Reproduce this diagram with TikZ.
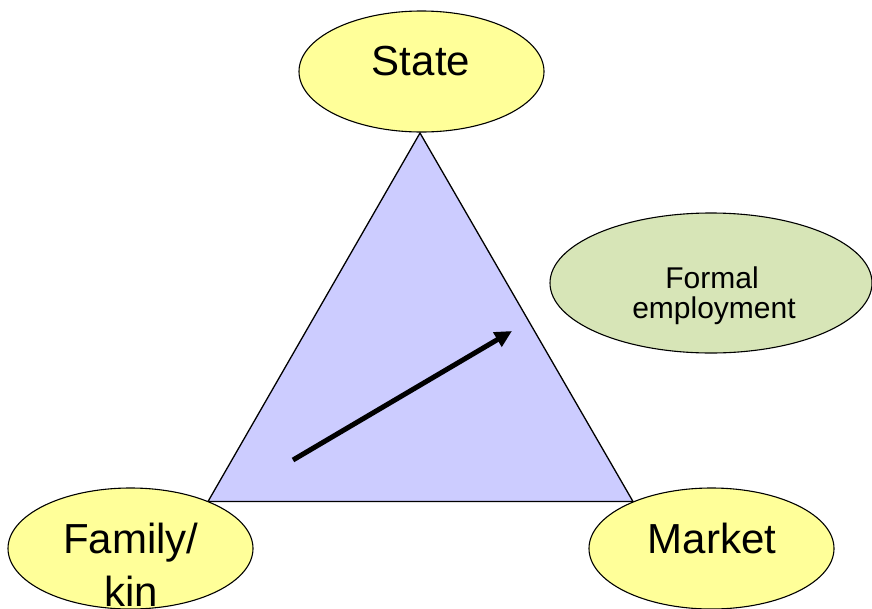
\documentclass[tikz,border=0pt]{standalone}
\usepackage{fontspec}
\setmainfont{Liberation Sans}
\usetikzlibrary{shapes.geometric,arrows.meta}

\definecolor{blobyellow}{RGB}{255,255,153}
\definecolor{triblue}{RGB}{204,204,255}
\definecolor{blobgreen}{RGB}{215,229,183}

\tikzset{
  blob/.style={ellipse, draw=black, line width=1.1pt, inner sep=0pt,
               minimum width=245pt, minimum height=121pt},
  bigtxt/.style={font=\fontsize{42}{50}\selectfont, inner sep=0pt, anchor=base},
  smalltxt/.style={font=\fontsize{30}{30}\selectfont, inner sep=0pt, anchor=base},
  corner/.style={inner sep=0pt, minimum size=0pt},
}

\begin{document}
\begin{tikzpicture}[x=1pt,y=-1pt]
  \useasboundingbox (0,0) rectangle (872,608);

  % corners of the welfare triangle
  \coordinate (top) at (420,133);
  \coordinate (left) at (208,501.5);
  \coordinate (right) at (633,501.5);
  \draw[fill=triblue, line width=1.3pt, line join=miter] (top) -- (right) -- (left) -- cycle;

  % direction of change
  \coordinate (from) at (293,460);
  \coordinate (to) at (512,331);
  \draw[line width=5pt, -{Triangle[length=17pt,width=16pt]}] (from) -- (to);

  % the three poles
  \node[blob, fill=blobyellow] (state) at (421.5,71.5) {};
  \node[blob, fill=blobyellow] (family) at (130.5,548.5) {};
  \node[blob, fill=blobyellow] (market) at (711.5,548.5) {};
  \node[blob, fill=blobgreen, minimum width=322pt, minimum height=140pt] (formal) at (711,283) {};

  \node[bigtxt] (statetxt) at (421,75) {State};
  \node[bigtxt] (markettxt) at (712,553) {Market};
  \node[bigtxt] (famtxt) at (131,553) {Family/};
  \node[bigtxt] (kintxt) at (131,606) {kin};
  \node[smalltxt] (formaltxt) at (712,288) {Formal};
  \node[smalltxt] (employtxt) at (714,318) {employment};
\end{tikzpicture}
\end{document}
